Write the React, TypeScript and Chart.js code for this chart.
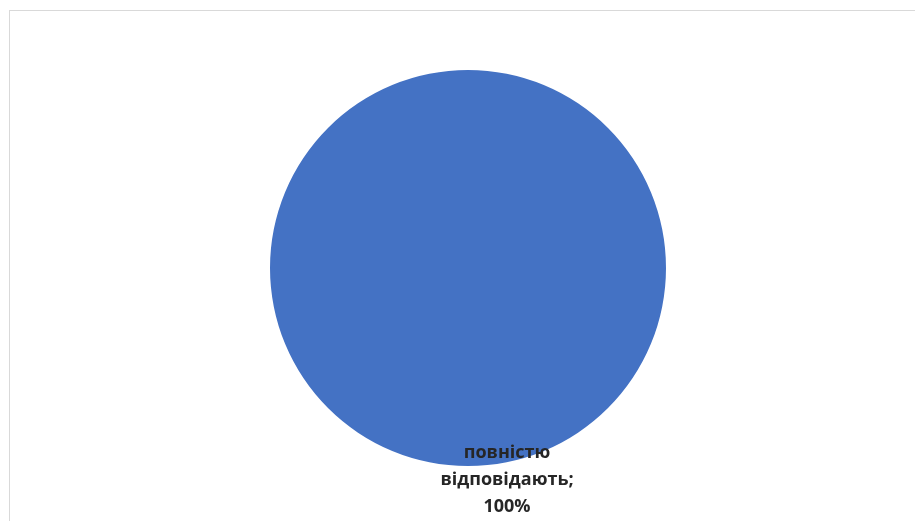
import React, { useEffect, useRef } from "react";
import { Chart, registerables } from "chart.js";

Chart.register(...registerables);

const categories = ["повністю відповідають"];
const values = [100];
const sliceColors = ["#4472C4"];

const labelPlugin = {
  id: "sliceLabel",
  afterDatasetsDraw(chart: any) {
    const { ctx } = chart;
    const meta = chart.getDatasetMeta(0);
    const arc = meta.data[0];
    if (!arc) return;
    const total = values.reduce((a, b) => a + b, 0);
    const pct = Math.round((values[0] / total) * 100) + "%";
    const words = categories[0].split(" ");
    const lines = [words[0], words.slice(1).join(" ") + ";", pct];
    const cx = arc.x + 39;
    const baseY = arc.y + 185;
    ctx.save();
    ctx.font = "bold 18px 'Open Sans', sans-serif";
    ctx.fillStyle = "#262626";
    ctx.textAlign = "center";
    ctx.textBaseline = "middle";
    lines.forEach((l, i) => ctx.fillText(l, cx, baseY + i * 27));
    ctx.restore();
  },
};

export default function App() {
  const ref = useRef<HTMLCanvasElement>(null);
  useEffect(() => {
    if (!ref.current) return;
    const chart = new Chart(ref.current, {
      type: "pie",
      data: {
        labels: categories,
        datasets: [
          {
            data: values,
            backgroundColor: sliceColors,
            borderWidth: 0,
          },
        ],
      },
      options: {
        responsive: false,
        animation: false,
        layout: { padding: { top: 70, bottom: 55, left: 70, right: 49 } },
        plugins: {
          legend: { display: false },
          tooltip: { enabled: false },
        },
      },
      plugins: [labelPlugin],
    });
    return () => chart.destroy();
  }, []);
  return (
    <div
      style={{
        position: "fixed",
        left: 0,
        top: 0,
        width: 915,
        height: 521,
        overflow: "hidden",
        background: "#fff",
      }}
    >
      <div
        style={{
          position: "absolute",
          left: 9,
          top: 10,
          width: 1000,
          height: 600,
          border: "1px solid #d9d9d9",
        }}
      />
      <canvas
        ref={ref}
        width={915}
        height={521}
        style={{ position: "absolute", left: 0, top: 0, width: 915, height: 521 }}
      />
    </div>
  );
}
